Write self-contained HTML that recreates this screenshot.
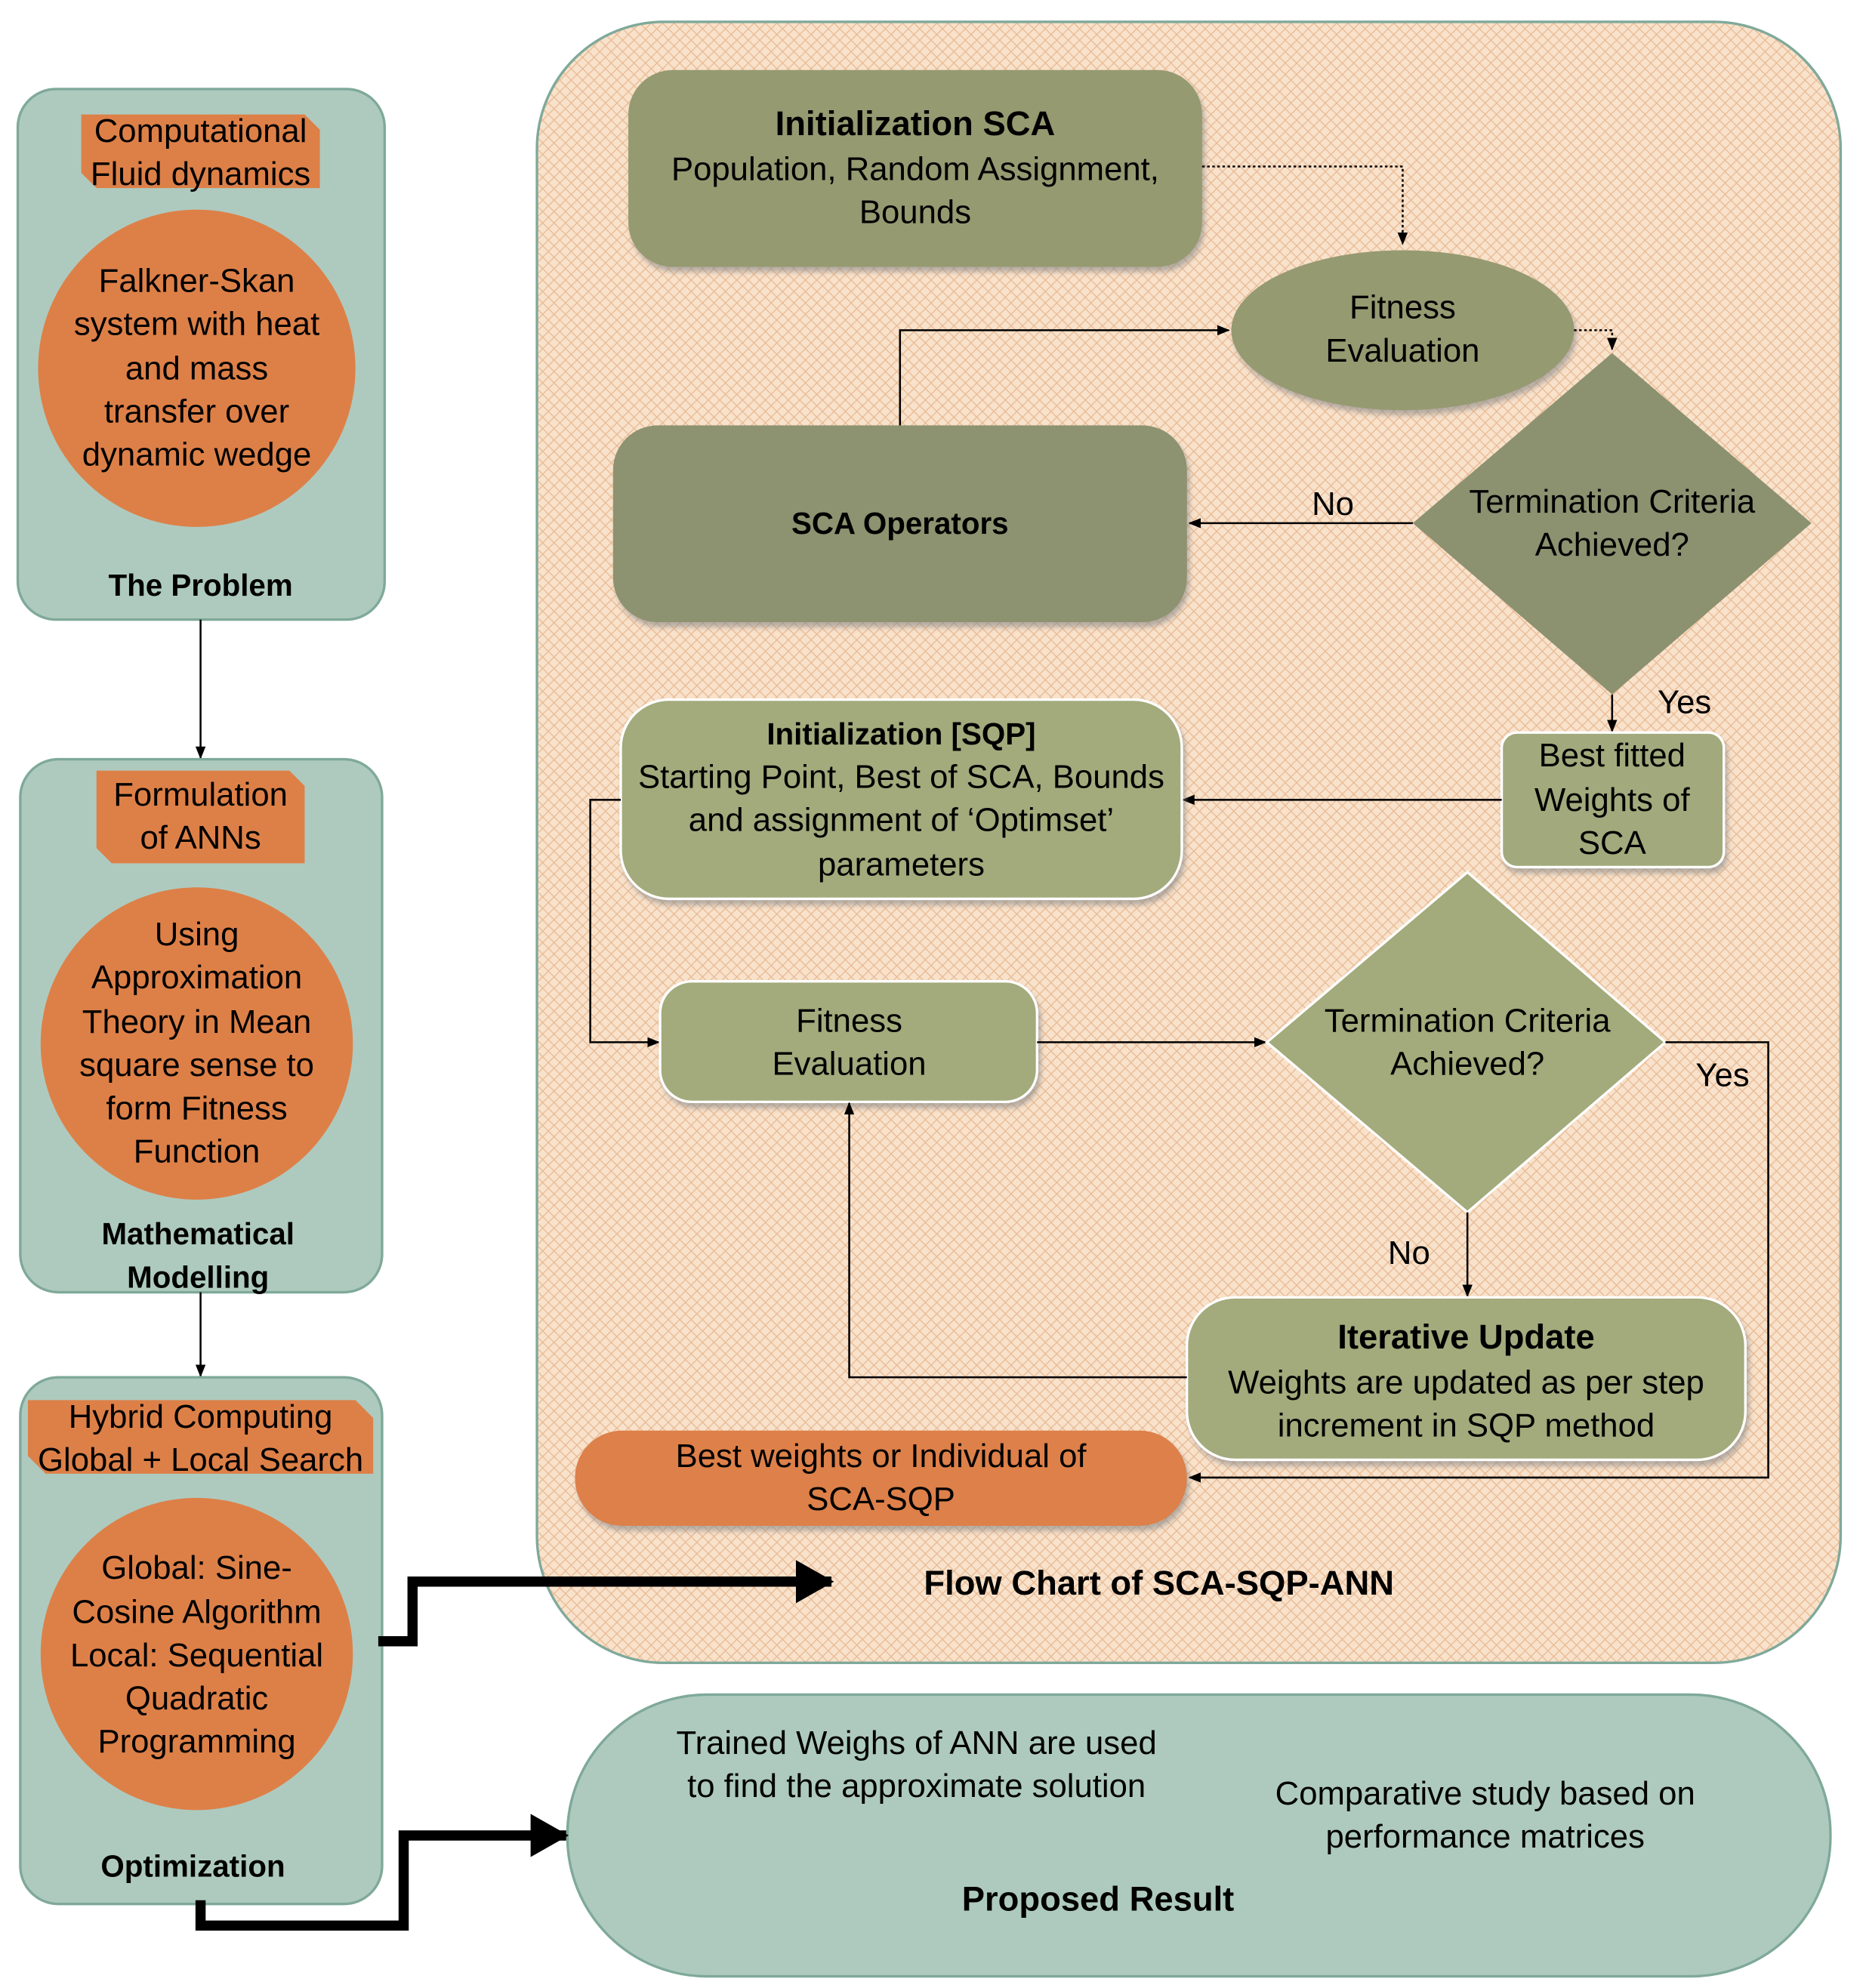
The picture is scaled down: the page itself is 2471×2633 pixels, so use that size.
<!DOCTYPE html>
<html><head><meta charset="utf-8"><style>html,body{margin:0;padding:0;background:#fff}svg{display:block}</style></head>
<body>
<svg width="2471" height="2633" viewBox="0 0 1470 1566" xmlns="http://www.w3.org/2000/svg" font-family="'Liberation Sans', sans-serif" font-size="26" text-anchor="middle" dominant-baseline="central">
<defs>
<pattern id="hatch" width="9" height="9" patternUnits="userSpaceOnUse">
<rect width="9" height="9" fill="#f9e2cb"/>
<path d="M0 0L9 9M9 0L0 9" stroke="#e8bb95" stroke-width="0.8"/>
</pattern>
<filter id="sh" x="-10%" y="-10%" width="120%" height="130%"><feDropShadow dx="2" dy="4" stdDeviation="2" flood-color="#888" flood-opacity="0.6"/></filter>
<marker id="ar" markerWidth="10" markerHeight="10" refX="9" refY="5" orient="auto" markerUnits="userSpaceOnUse"><path d="M0 1L10 5L0 9z" fill="#000"/></marker>
<marker id="big" markerWidth="30" markerHeight="34" refX="28" refY="17" orient="auto" markerUnits="userSpaceOnUse"><path d="M0 0L30 17L0 34z" fill="#000"/></marker>
</defs>

<!-- Left panels -->
<rect x="14" y="70" width="289" height="418" rx="30" fill="#aecabf" stroke="#7fa99a" stroke-width="2"/>
<polygon points="64,90 240,90 252,102 252,148 76,148 64,136" fill="#dd8048"/>
<text x="158" y="103">Computational</text><text x="158" y="137">Fluid dynamics</text>
<ellipse cx="155" cy="290" rx="125" ry="125" fill="#dd8048"/>
<text x="155" y="221">Falkner-Skan</text><text x="155" y="255">system with heat</text><text x="155" y="290">and mass</text><text x="155" y="324">transfer over</text><text x="155" y="358">dynamic wedge</text>
<text x="158" y="461" font-weight="bold" font-size="24">The Problem</text>
<line x1="158" y1="488" x2="158" y2="597" stroke="#000" stroke-width="1.5" marker-end="url(#ar)"/>

<rect x="16" y="598" width="285" height="420" rx="30" fill="#aecabf" stroke="#7fa99a" stroke-width="2"/>
<polygon points="76,607 228,607 240,619 240,680 88,680 76,668" fill="#dd8048"/>
<text x="158" y="626">Formulation</text><text x="158" y="660">of ANNs</text>
<ellipse cx="155" cy="822" rx="123" ry="123" fill="#dd8048"/>
<text x="155" y="736">Using</text><text x="155" y="770">Approximation</text><text x="155" y="805">Theory in Mean</text><text x="155" y="839">square sense to</text><text x="155" y="873">form Fitness</text><text x="155" y="907">Function</text>
<text x="156" y="972" font-weight="bold" font-size="24">Mathematical</text><text x="156" y="1006" font-weight="bold" font-size="24">Modelling</text>
<line x1="158" y1="1018" x2="158" y2="1084" stroke="#000" stroke-width="1.5" marker-end="url(#ar)"/>

<rect x="16" y="1085" width="285" height="415" rx="30" fill="#aecabf" stroke="#7fa99a" stroke-width="2"/>
<polygon points="22,1103 280,1103 294,1117 294,1161 36,1161 22,1147" fill="#dd8048"/>
<text x="158" y="1116">Hybrid Computing</text><text x="158" y="1150">Global + Local Search</text>
<ellipse cx="155" cy="1303" rx="123" ry="123" fill="#dd8048"/>
<text x="155" y="1235">Global: Sine-</text><text x="155" y="1270">Cosine Algorithm</text><text x="155" y="1304">Local: Sequential</text><text x="155" y="1338">Quadratic</text><text x="155" y="1372">Programming</text>
<text x="152" y="1470" font-weight="bold" font-size="24">Optimization</text>

<!-- Main panel -->
<rect x="423" y="17" width="1027" height="1293" rx="100" fill="url(#hatch)" stroke="#7fa99a" stroke-width="2"/>

<rect x="495" y="55" width="452" height="155" rx="35" fill="#959a71" filter="url(#sh)"/>
<text x="721" y="97" font-weight="bold" font-size="27">Initialization SCA</text>
<text x="721" y="133">Population, Random Assignment,</text><text x="721" y="167">Bounds</text>
<polyline points="947,131 1105,131 1105,192" fill="none" stroke="#000" stroke-width="1.5" stroke-dasharray="2,2" marker-end="url(#ar)"/>

<ellipse cx="1105" cy="260" rx="135" ry="63" fill="#959a71" filter="url(#sh)"/>
<text x="1105" y="242">Fitness</text><text x="1105" y="276">Evaluation</text>
<polyline points="1240,260 1270,260 1270,275" fill="none" stroke="#000" stroke-width="1.5" stroke-dasharray="2,2" marker-end="url(#ar)"/>

<polygon points="1270,278 1427,412 1270,547 1113,412" fill="#8c9170"/>
<text x="1270" y="395">Termination Criteria</text><text x="1270" y="429">Achieved?</text>

<rect x="483" y="335" width="452" height="155" rx="35" fill="#8d9270" filter="url(#sh)"/>
<text x="709" y="412" font-weight="bold" font-size="24">SCA Operators</text>
<polyline points="709,335 709,260 968,260" fill="none" stroke="#000" stroke-width="1.5" marker-end="url(#ar)"/>
<line x1="1113" y1="412" x2="937" y2="412" stroke="#000" stroke-width="1.5" marker-end="url(#ar)"/>
<text x="1050" y="397">No</text>
<line x1="1270" y1="547" x2="1270" y2="576" stroke="#000" stroke-width="1.5" marker-end="url(#ar)"/>
<text x="1327" y="553">Yes</text>

<rect x="1183" y="577" width="175" height="106" rx="12" fill="#a2a97c" stroke="#fff" stroke-width="2" filter="url(#sh)"/>
<text x="1270" y="595">Best fitted</text><text x="1270" y="630">Weights of</text><text x="1270" y="664">SCA</text>
<line x1="1183" y1="630" x2="932" y2="630" stroke="#000" stroke-width="1.5" marker-end="url(#ar)"/>

<rect x="489" y="551" width="442" height="157" rx="38" fill="#a3aa7b" stroke="#fff" stroke-width="2" filter="url(#sh)"/>
<text x="710" y="578" font-weight="bold" font-size="24">Initialization [SQP]</text>
<text x="710" y="612">Starting Point, Best of SCA, Bounds</text><text x="710" y="646">and assignment of ‘Optimset’</text><text x="710" y="681">parameters</text>
<polyline points="489,630 465,630 465,821 519,821" fill="none" stroke="#000" stroke-width="1.5" marker-end="url(#ar)"/>

<rect x="520" y="773" width="297" height="95" rx="25" fill="#a3aa7b" stroke="#fff" stroke-width="2" filter="url(#sh)"/>
<text x="669" y="804">Fitness</text><text x="669" y="838">Evaluation</text>
<line x1="817" y1="821" x2="997" y2="821" stroke="#000" stroke-width="1.5" marker-end="url(#ar)"/>

<polygon points="1156,687 1312,821 1156,955 998,821" fill="#a3aa7b" stroke="#fff" stroke-width="2"/>
<text x="1156" y="804">Termination Criteria</text><text x="1156" y="838">Achieved?</text>
<polyline points="1312,821 1393,821 1393,1164 937,1164" fill="none" stroke="#000" stroke-width="1.5" marker-end="url(#ar)"/>
<text x="1357" y="847">Yes</text>
<line x1="1156" y1="955" x2="1156" y2="1021" stroke="#000" stroke-width="1.5" marker-end="url(#ar)"/>
<text x="1110" y="987">No</text>

<rect x="935" y="1022" width="440" height="128" rx="38" fill="#a3aa7b" stroke="#fff" stroke-width="2" filter="url(#sh)"/>
<text x="1155" y="1053" font-weight="bold" font-size="27">Iterative Update</text>
<text x="1155" y="1089">Weights are updated as per step</text><text x="1155" y="1123">increment in SQP method</text>
<polyline points="935,1085 669,1085 669,869" fill="none" stroke="#000" stroke-width="1.5" marker-end="url(#ar)"/>

<rect x="453" y="1127" width="482" height="75" rx="37" fill="#dd8048" filter="url(#sh)"/>
<text x="694" y="1147">Best weights or Individual of</text><text x="694" y="1181">SCA-SQP</text>

<text x="913" y="1247" font-weight="bold" font-size="27">Flow Chart of SCA-SQP-ANN</text>

<polyline points="298,1293 325,1293 325,1246 655,1246" fill="none" stroke="#000" stroke-width="8" marker-end="url(#big)"/>

<!-- Proposed result -->
<rect x="447" y="1335" width="995" height="222" rx="110" fill="#aecabf" stroke="#7fa99a" stroke-width="2"/>
<text x="722" y="1373">Trained Weighs of ANN are used</text><text x="722" y="1407">to find the approximate solution</text>
<text x="1170" y="1413">Comparative study based on</text><text x="1170" y="1447">performance matrices</text>
<text x="865" y="1496" font-weight="bold" font-size="27">Proposed Result</text>

<polyline points="158,1497 158,1517 318,1517 318,1446 446,1446" fill="none" stroke="#000" stroke-width="8" marker-end="url(#big)"/>
</svg>
</body></html>
